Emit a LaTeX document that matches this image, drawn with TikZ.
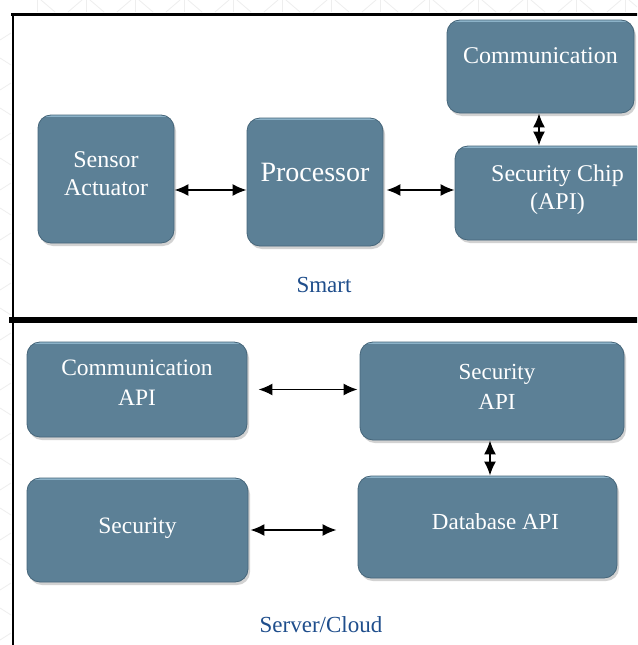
\documentclass[tikz,border=0pt]{standalone}
\usepackage{fontspec}
\setmainfont{Liberation Serif}
\usetikzlibrary{arrows.meta,shadows}
\definecolor{boxfill}{RGB}{92,128,150}
\definecolor{boxedge}{RGB}{70,102,122}
\definecolor{boxlight}{RGB}{140,178,200}
\definecolor{lblblue}{RGB}{31,78,140}
\definecolor{patt}{RGB}{238,238,238}
\begin{document}
\begin{tikzpicture}[x=1pt,y=-1pt,
  box/.style={draw=boxedge, line width=0.8pt, fill=boxfill, rounded corners=13pt,
    inner sep=0pt, drop shadow={shadow xshift=2pt, shadow yshift=-3pt, opacity=0.35},
    path picture={\draw[boxlight,line width=3pt] (path picture bounding box.north west) -- (path picture bounding box.north east);}},
  boxtext/.style={text=white, font=\fontsize{24}{28}\selectfont, align=center, inner sep=0pt},
  lbl/.style={text=lblblue, font=\fontsize{23}{27}\selectfont, inner sep=0pt},
  arr/.style={{Latex[length=14pt,width=12pt]}-{Latex[length=14pt,width=12pt]}, line width=1.7pt, black},
  frame/.style={black, line cap=rect}]
\useasboundingbox (0,0) rectangle (637,645);
\clip (0,0) rectangle (637,645);
\fill[white] (0,0) rectangle (637,645);
% faint background pattern
\foreach \k in {0,...,12} {
  \pgfmathsetmacro{\xo}{37+49*\k}
  \draw[patt, line width=0.8pt] (\xo,0) -- (\xo,12);
  \draw[patt, line width=0.8pt] (\xo+4,0) -- (\xo+18,12);
  \draw[patt, line width=0.8pt] (\xo+31,12) -- (\xo+45,0);
}
\foreach \k in {0,...,12} {
  \pgfmathsetmacro{\yo}{40+50*\k}
  \draw[patt, line width=0.8pt] (0,\yo) -- (11,\yo-7);
  \draw[patt, line width=0.8pt] (0,\yo+18) -- (11,\yo+25);
}
% frame
\draw[frame, line width=3pt] (12,14.5) -- (640,14.5);
\draw[frame, line width=2.5pt] (13,14) -- (13,650);
\draw[frame, line width=6pt] (12,320) -- (640,320);
% top panel boxes
\node[box, minimum width=187pt, minimum height=93pt] (comm) at (540.5,66.5) {};
\node[box, minimum width=136pt, minimum height=128pt] (sensor) at (106,179) {};
\node[box, minimum width=136pt, minimum height=128pt] (proc) at (315,182) {};
\node[box, minimum width=205pt, minimum height=94pt] (chip) at (557.5,193) {};
\node[boxtext, yshift=11pt] (commT) at (comm) {Communication};
\node[boxtext, yshift=5pt] (sensorT) at (sensor) {Sensor\\Actuator};
\node[boxtext, yshift=10pt, font=\fontsize{28}{32}\selectfont] (procT) at (proc) {Processor};
\node[boxtext, yshift=3pt] (chipT) at (chip) {Security Chip\\(API)};
\draw[arr] ([yshift=-11pt]sensor.east) -- ([yshift=-11pt]sensor.east -| proc.west);
\draw[arr, shorten <=3pt] ([yshift=-8pt]proc.east) -- ([yshift=-8pt]proc.east -| chip.west);
\draw[arr] ([xshift=-1.5pt]comm.south) -- ([xshift=-1.5pt]comm.south |- chip.north);
\node[lbl] (smart) at (324,285) {Smart};
% bottom panel boxes
\node[box, minimum width=220pt, minimum height=95pt] (commapi) at (137,389.5) {};
\node[box, minimum width=264pt, minimum height=98pt] (secapi) at (492,391) {};
\node[box, minimum width=221pt, minimum height=104pt] (security) at (137.5,530) {};
\node[box, minimum width=259pt, minimum height=102pt] (dbapi) at (487.5,527) {};
\node[boxtext, yshift=7pt, font=\fontsize{23.5}{30}\selectfont] (commapiT) at (commapi) {Communication\\API};
\node[boxtext, yshift=4pt, xshift=5pt, font=\fontsize{23}{30}\selectfont] (secapiT) at (secapi) {Security\\API};
\node[boxtext, yshift=2pt, font=\fontsize{23.5}{28}\selectfont] (securityT) at (security) {Security};
\node[boxtext, yshift=5pt, xshift=8pt, font=\fontsize{23}{28}\selectfont] (dbapiT) at (dbapi) {Database API};
\draw[arr, shorten <=11pt, shorten >=2pt] (commapi.east) -- (commapi.east -| secapi.west);
\draw[arr] ([xshift=-2pt]secapi.south) -- ([xshift=-2pt]secapi.south |- dbapi.north);
\draw[arr, shorten <=2pt, shorten >=21pt] (security.east) -- (security.east -| dbapi.west);
\node[lbl] (cloud) at (321,625) {Server/Cloud};
\end{tikzpicture}
\end{document}
